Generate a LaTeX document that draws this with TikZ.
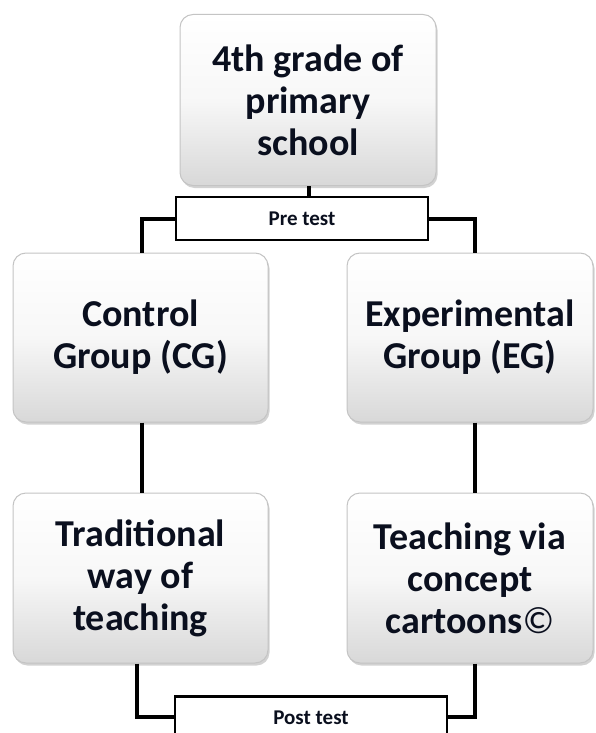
\documentclass[tikz,border=0pt]{standalone}
\usepackage{fontspec}
\setmainfont{Carlito}
\usetikzlibrary{shadows}
\definecolor{boxedge}{HTML}{C4C4C4}
\definecolor{boxbot}{HTML}{D8D8D8}
\definecolor{txt}{HTML}{0A0F1E}
\tikzset{
  bigbox/.style={rectangle, rounded corners=13pt, draw=boxedge, line width=1pt,
    top color=white, bottom color=boxbot, middle color=gray!6,
    drop shadow={opacity=0.35, shadow xshift=1.5pt, shadow yshift=-2.5pt},
    minimum width=#1, inner sep=0pt, align=center, text=txt,
    font=\fontsize{38}{42}\selectfont\bfseries},
  testbox/.style={rectangle, draw=black, line width=2.5pt, fill=white,
    inner sep=0pt, align=center, text=txt,
    font=\fontsize{21}{25}\selectfont\bfseries},
  link/.style={draw=black, line width=3.5pt}
}
\begin{document}
\begin{tikzpicture}[x=1pt,y=-1pt]
\useasboundingbox (0,0) rectangle (595,733);
\clip (0,0) rectangle (595,733);
\fill[white] (0,0) rectangle (595,733);
\node[bigbox=256pt, minimum height=171pt] (top) at (308,100) {4th grade of\\primary\\school};
\node[bigbox=255pt, minimum height=169pt] (cg) at (140.5,337.5) {Control\\Group (CG)};
\node[bigbox=246pt, minimum height=169pt] (eg) at (470,337.5) {Experimental\\Group (EG)};
\node[bigbox=255pt, minimum height=170pt] (tr) at (140.5,578) {Traditional\\way of\\teaching};
\node[bigbox=246pt, minimum height=170pt] (tc) at (470,578) {Teaching via\\concept\\cartoons\textmd{©}};
\coordinate (pl) at (142,219);
\coordinate (pr) at (475,219);
\coordinate (ql) at (137,717);
\coordinate (qr) at (475,717);
\coordinate (tm) at (309,205);
\draw[link] (top.south -| tm) -- (tm);
\draw[link] (cg.north -| pl) -- (pl) -- ++(60,0);
\draw[link] (eg.north -| pr) -- (pr) -- ++(-60,0);
\draw[link] (cg.south -| pl) -- (tr.north -| pl);
\draw[link] (eg.south -| pr) -- (tc.north -| pr);
\draw[link] (tr.south -| ql) -- (ql) -- ++(60,0);
\draw[link] (tc.south -| qr) -- (qr) -- ++(-60,0);
\node[testbox, minimum width=252pt, minimum height=43pt] (pre) at (302,218.5) {Pre test};
\node[testbox, anchor=north, minimum width=272pt, text height=15pt, text depth=40pt, inner ysep=13pt] (post) at (311,695) {Post test};
\end{tikzpicture}
\end{document}
